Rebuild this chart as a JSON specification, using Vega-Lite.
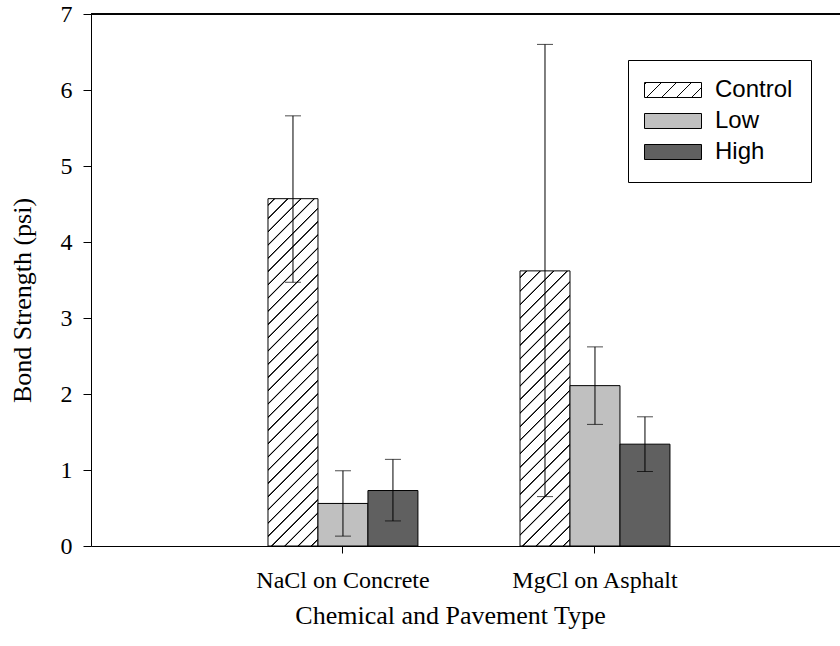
{
  "$schema": "https://vega.github.io/schema/vega-lite/v6.json",
  "width": 749,
  "height": 532,
  "autosize": "none",
  "padding": {"left": 91, "top": 14, "right": 0, "bottom": 100},
  "background": "white",
  "data": {"values": [
    {"type": "NaCl on Concrete", "treatment": "Control", "mean": 4.57, "lo": 3.47, "hi": 5.66},
    {"type": "NaCl on Concrete", "treatment": "Low", "mean": 0.56, "lo": 0.13, "hi": 0.99},
    {"type": "NaCl on Concrete", "treatment": "High", "mean": 0.73, "lo": 0.33, "hi": 1.14},
    {"type": "MgCl on Asphalt", "treatment": "Control", "mean": 3.62, "lo": 0.65, "hi": 6.6},
    {"type": "MgCl on Asphalt", "treatment": "Low", "mean": 2.11, "lo": 1.6, "hi": 2.62},
    {"type": "MgCl on Asphalt", "treatment": "High", "mean": 1.34, "lo": 0.98, "hi": 1.7}
  ]},
  "layer": [
    {
      "mark": {"type": "bar", "stroke": "black", "strokeWidth": 1},
      "encoding": {
        "x": {"field": "type", "type": "nominal", "sort": ["NaCl on Concrete", "MgCl on Asphalt"],
              "scale": {"paddingInner": 0.405, "paddingOuter": 0.6885, "align": 0.51},
              "title": "Chemical and Pavement Type",
              "axis": {"labelAngle": 0, "tickSize": 7, "labelPadding": 15, "labelFont": "Liberation Serif", "labelFontSize": 24,
                       "titleFont": "Liberation Serif", "titleFontSize": 26, "titleFontWeight": "normal",
                       "titleX": 359, "titleY": 77, "titleBaseline": "alphabetic", "titleAlign": "center"}},
        "xOffset": {"field": "treatment", "type": "nominal", "sort": ["Control", "Low", "High"], "scale": {"paddingInner": 0, "paddingOuter": 0}},
        "y": {"field": "mean", "type": "quantitative", "scale": {"domain": [0, 7], "nice": false},
              "title": "Bond Strength (psi)",
              "axis": {"values": [0, 1, 2, 3, 4, 5, 6, 7], "format": "d", "tickSize": 8, "labelPadding": 11, "labelFont": "Liberation Serif", "labelFontSize": 24,
                       "titleFont": "Liberation Serif", "titleFontSize": 26, "titleFontWeight": "normal",
                       "titleX": -69, "titleY": 286, "titleAngle": -90, "titleBaseline": "middle", "titleAlign": "center"}},
        "fill": {
          "condition": [
            {"test": "datum.treatment === 'Control' && datum.type === 'NaCl on Concrete'",
             "value": {"gradient": "linear", "x1": 0, "y1": 0, "x2": 0.16134, "y2": 1.1207, "stops": [
              {"offset": 0, "color": "white"},
              {"offset": 0.0137, "color": "white"}, {"offset": 0.0157, "color": "black"}, {"offset": 0.0177, "color": "black"}, {"offset": 0.0197, "color": "white"},
              {"offset": 0.0470, "color": "white"}, {"offset": 0.0490, "color": "black"}, {"offset": 0.0510, "color": "black"}, {"offset": 0.0530, "color": "white"},
              {"offset": 0.0803, "color": "white"}, {"offset": 0.0823, "color": "black"}, {"offset": 0.0843, "color": "black"}, {"offset": 0.0863, "color": "white"},
              {"offset": 0.1137, "color": "white"}, {"offset": 0.1157, "color": "black"}, {"offset": 0.1177, "color": "black"}, {"offset": 0.1197, "color": "white"},
              {"offset": 0.1470, "color": "white"}, {"offset": 0.1490, "color": "black"}, {"offset": 0.1510, "color": "black"}, {"offset": 0.1530, "color": "white"},
              {"offset": 0.1803, "color": "white"}, {"offset": 0.1823, "color": "black"}, {"offset": 0.1843, "color": "black"}, {"offset": 0.1863, "color": "white"},
              {"offset": 0.2137, "color": "white"}, {"offset": 0.2157, "color": "black"}, {"offset": 0.2177, "color": "black"}, {"offset": 0.2197, "color": "white"},
              {"offset": 0.2470, "color": "white"}, {"offset": 0.2490, "color": "black"}, {"offset": 0.2510, "color": "black"}, {"offset": 0.2530, "color": "white"},
              {"offset": 0.2803, "color": "white"}, {"offset": 0.2823, "color": "black"}, {"offset": 0.2843, "color": "black"}, {"offset": 0.2863, "color": "white"},
              {"offset": 0.3137, "color": "white"}, {"offset": 0.3157, "color": "black"}, {"offset": 0.3177, "color": "black"}, {"offset": 0.3197, "color": "white"},
              {"offset": 0.3470, "color": "white"}, {"offset": 0.3490, "color": "black"}, {"offset": 0.3510, "color": "black"}, {"offset": 0.3530, "color": "white"},
              {"offset": 0.3803, "color": "white"}, {"offset": 0.3823, "color": "black"}, {"offset": 0.3843, "color": "black"}, {"offset": 0.3863, "color": "white"},
              {"offset": 0.4137, "color": "white"}, {"offset": 0.4157, "color": "black"}, {"offset": 0.4177, "color": "black"}, {"offset": 0.4197, "color": "white"},
              {"offset": 0.4470, "color": "white"}, {"offset": 0.4490, "color": "black"}, {"offset": 0.4510, "color": "black"}, {"offset": 0.4530, "color": "white"},
              {"offset": 0.4803, "color": "white"}, {"offset": 0.4823, "color": "black"}, {"offset": 0.4843, "color": "black"}, {"offset": 0.4863, "color": "white"},
              {"offset": 0.5137, "color": "white"}, {"offset": 0.5157, "color": "black"}, {"offset": 0.5177, "color": "black"}, {"offset": 0.5197, "color": "white"},
              {"offset": 0.5470, "color": "white"}, {"offset": 0.5490, "color": "black"}, {"offset": 0.5510, "color": "black"}, {"offset": 0.5530, "color": "white"},
              {"offset": 0.5803, "color": "white"}, {"offset": 0.5823, "color": "black"}, {"offset": 0.5843, "color": "black"}, {"offset": 0.5863, "color": "white"},
              {"offset": 0.6137, "color": "white"}, {"offset": 0.6157, "color": "black"}, {"offset": 0.6177, "color": "black"}, {"offset": 0.6197, "color": "white"},
              {"offset": 0.6470, "color": "white"}, {"offset": 0.6490, "color": "black"}, {"offset": 0.6510, "color": "black"}, {"offset": 0.6530, "color": "white"},
              {"offset": 0.6803, "color": "white"}, {"offset": 0.6823, "color": "black"}, {"offset": 0.6843, "color": "black"}, {"offset": 0.6863, "color": "white"},
              {"offset": 0.7137, "color": "white"}, {"offset": 0.7157, "color": "black"}, {"offset": 0.7177, "color": "black"}, {"offset": 0.7197, "color": "white"},
              {"offset": 0.7470, "color": "white"}, {"offset": 0.7490, "color": "black"}, {"offset": 0.7510, "color": "black"}, {"offset": 0.7530, "color": "white"},
              {"offset": 0.7803, "color": "white"}, {"offset": 0.7823, "color": "black"}, {"offset": 0.7843, "color": "black"}, {"offset": 0.7863, "color": "white"},
              {"offset": 0.8137, "color": "white"}, {"offset": 0.8157, "color": "black"}, {"offset": 0.8177, "color": "black"}, {"offset": 0.8197, "color": "white"},
              {"offset": 0.8470, "color": "white"}, {"offset": 0.8490, "color": "black"}, {"offset": 0.8510, "color": "black"}, {"offset": 0.8530, "color": "white"},
              {"offset": 0.8803, "color": "white"}, {"offset": 0.8823, "color": "black"}, {"offset": 0.8843, "color": "black"}, {"offset": 0.8863, "color": "white"},
              {"offset": 0.9137, "color": "white"}, {"offset": 0.9157, "color": "black"}, {"offset": 0.9177, "color": "black"}, {"offset": 0.9197, "color": "white"},
              {"offset": 0.9470, "color": "white"}, {"offset": 0.9490, "color": "black"}, {"offset": 0.9510, "color": "black"}, {"offset": 0.9530, "color": "white"},
              {"offset": 0.9803, "color": "white"}, {"offset": 0.9823, "color": "black"}, {"offset": 0.9843, "color": "black"}, {"offset": 0.9863, "color": "white"},
              {"offset": 1, "color": "white"}
             ]}},
            {"test": "datum.treatment === 'Control' && datum.type === 'MgCl on Asphalt'",
             "value": {"gradient": "linear", "x1": 0, "y1": 0, "x2": 0.20793, "y2": 1.1440, "stops": [
              {"offset": 0, "color": "white"},
              {"offset": 0.0171, "color": "white"}, {"offset": 0.0196, "color": "black"}, {"offset": 0.0220, "color": "black"}, {"offset": 0.0245, "color": "white"},
              {"offset": 0.0588, "color": "white"}, {"offset": 0.0613, "color": "black"}, {"offset": 0.0637, "color": "black"}, {"offset": 0.0662, "color": "white"},
              {"offset": 0.1005, "color": "white"}, {"offset": 0.1030, "color": "black"}, {"offset": 0.1054, "color": "black"}, {"offset": 0.1079, "color": "white"},
              {"offset": 0.1421, "color": "white"}, {"offset": 0.1446, "color": "black"}, {"offset": 0.1470, "color": "black"}, {"offset": 0.1495, "color": "white"},
              {"offset": 0.1838, "color": "white"}, {"offset": 0.1863, "color": "black"}, {"offset": 0.1887, "color": "black"}, {"offset": 0.1912, "color": "white"},
              {"offset": 0.2255, "color": "white"}, {"offset": 0.2280, "color": "black"}, {"offset": 0.2304, "color": "black"}, {"offset": 0.2329, "color": "white"},
              {"offset": 0.2671, "color": "white"}, {"offset": 0.2696, "color": "black"}, {"offset": 0.2720, "color": "black"}, {"offset": 0.2745, "color": "white"},
              {"offset": 0.3088, "color": "white"}, {"offset": 0.3113, "color": "black"}, {"offset": 0.3137, "color": "black"}, {"offset": 0.3162, "color": "white"},
              {"offset": 0.3505, "color": "white"}, {"offset": 0.3530, "color": "black"}, {"offset": 0.3554, "color": "black"}, {"offset": 0.3579, "color": "white"},
              {"offset": 0.3921, "color": "white"}, {"offset": 0.3946, "color": "black"}, {"offset": 0.3970, "color": "black"}, {"offset": 0.3995, "color": "white"},
              {"offset": 0.4338, "color": "white"}, {"offset": 0.4363, "color": "black"}, {"offset": 0.4387, "color": "black"}, {"offset": 0.4412, "color": "white"},
              {"offset": 0.4755, "color": "white"}, {"offset": 0.4780, "color": "black"}, {"offset": 0.4804, "color": "black"}, {"offset": 0.4829, "color": "white"},
              {"offset": 0.5171, "color": "white"}, {"offset": 0.5196, "color": "black"}, {"offset": 0.5220, "color": "black"}, {"offset": 0.5245, "color": "white"},
              {"offset": 0.5588, "color": "white"}, {"offset": 0.5613, "color": "black"}, {"offset": 0.5637, "color": "black"}, {"offset": 0.5662, "color": "white"},
              {"offset": 0.6005, "color": "white"}, {"offset": 0.6030, "color": "black"}, {"offset": 0.6054, "color": "black"}, {"offset": 0.6079, "color": "white"},
              {"offset": 0.6421, "color": "white"}, {"offset": 0.6446, "color": "black"}, {"offset": 0.6470, "color": "black"}, {"offset": 0.6495, "color": "white"},
              {"offset": 0.6838, "color": "white"}, {"offset": 0.6863, "color": "black"}, {"offset": 0.6887, "color": "black"}, {"offset": 0.6912, "color": "white"},
              {"offset": 0.7255, "color": "white"}, {"offset": 0.7280, "color": "black"}, {"offset": 0.7304, "color": "black"}, {"offset": 0.7329, "color": "white"},
              {"offset": 0.7671, "color": "white"}, {"offset": 0.7696, "color": "black"}, {"offset": 0.7720, "color": "black"}, {"offset": 0.7745, "color": "white"},
              {"offset": 0.8088, "color": "white"}, {"offset": 0.8113, "color": "black"}, {"offset": 0.8137, "color": "black"}, {"offset": 0.8162, "color": "white"},
              {"offset": 0.8505, "color": "white"}, {"offset": 0.8530, "color": "black"}, {"offset": 0.8554, "color": "black"}, {"offset": 0.8579, "color": "white"},
              {"offset": 0.8921, "color": "white"}, {"offset": 0.8946, "color": "black"}, {"offset": 0.8970, "color": "black"}, {"offset": 0.8995, "color": "white"},
              {"offset": 0.9338, "color": "white"}, {"offset": 0.9363, "color": "black"}, {"offset": 0.9387, "color": "black"}, {"offset": 0.9412, "color": "white"},
              {"offset": 0.9755, "color": "white"}, {"offset": 0.9780, "color": "black"}, {"offset": 0.9804, "color": "black"}, {"offset": 0.9829, "color": "white"},
              {"offset": 1, "color": "white"}
             ]}}
          ],
          "field": "treatment", "type": "nominal",
          "scale": {"domain": ["Control", "Low", "High"], "range": ["white", "#c0c0c0", "#606060"]},
          "legend": {
            "orient": "none", "legendX": 537, "legendY": 46, "title": null,
            "strokeColor": "black", "fillColor": "white", "padding": 18,
            "labelFont": "Liberation Sans", "labelFontSize": 24, "labelColor": "black",
            "symbolSize": 225, "symbolStrokeColor": "black", "symbolStrokeWidth": 1,
            "symbolType": "M-3.8,-1H3.8V1H-3.8Z",
            "symbolOffset": 15, "labelOffset": 30, "rowPadding": 7,
            "encode": {"symbols": {"update": {"shape": {"signal": "datum.value === 'Control' ? 'M-3.8,-1H3.8V1H-3.8Z M-3.8,-0.73L-3.53,-1 M-3.53,1L-1.53,-1 M-1.53,1L0.47,-1 M0.47,1L2.47,-1 M2.47,1L3.8,-0.33' : 'M-3.8,-1H3.8V1H-3.8Z'"}}}}
          }
        }
      }
    },
    {
      "mark": {"type": "rule", "color": "black", "strokeWidth": 1},
      "encoding": {
        "x": {"field": "type", "type": "nominal", "sort": ["NaCl on Concrete", "MgCl on Asphalt"]},
        "xOffset": {"field": "treatment", "type": "nominal", "sort": ["Control", "Low", "High"]},
        "y": {"field": "lo", "type": "quantitative"},
        "y2": {"field": "hi"}
      }
    },
    {
      "mark": {"type": "tick", "color": "black", "thickness": 1, "size": 16, "orient": "horizontal"},
      "encoding": {
        "x": {"field": "type", "type": "nominal", "sort": ["NaCl on Concrete", "MgCl on Asphalt"]},
        "xOffset": {"field": "treatment", "type": "nominal", "sort": ["Control", "Low", "High"]},
        "y": {"field": "lo", "type": "quantitative"}
      }
    },
    {
      "mark": {"type": "tick", "color": "black", "thickness": 1, "size": 16, "orient": "horizontal"},
      "encoding": {
        "x": {"field": "type", "type": "nominal", "sort": ["NaCl on Concrete", "MgCl on Asphalt"]},
        "xOffset": {"field": "treatment", "type": "nominal", "sort": ["Control", "Low", "High"]},
        "y": {"field": "hi", "type": "quantitative"}
      }
    },
    {
      "mark": {"type": "rule", "color": "black", "strokeWidth": 1},
      "encoding": {"y": {"datum": 7}}
    }
  ],
  "config": {
    "view": {"stroke": null},
    "axis": {"domainColor": "black", "tickColor": "black", "labelColor": "black", "titleColor": "black", "grid": false}
  }
}
